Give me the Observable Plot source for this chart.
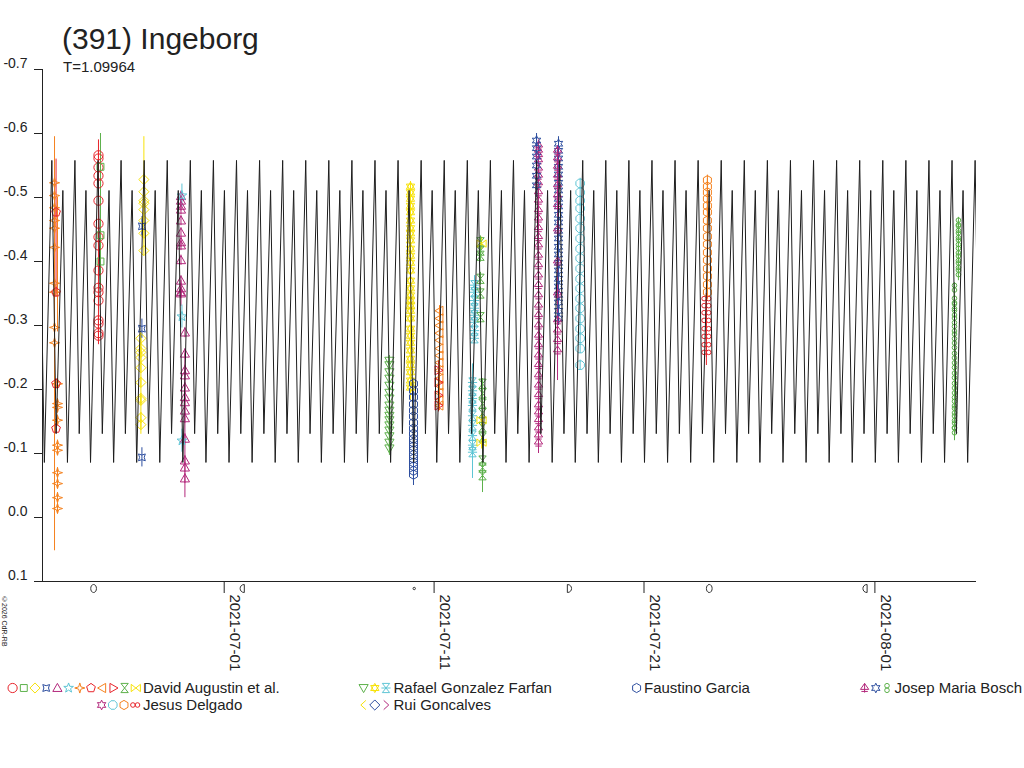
<!DOCTYPE html>
<html>
<head>
<meta charset="utf-8">
<script src="https://cdn.jsdelivr.net/npm/d3@7"></script>
<script src="https://cdn.jsdelivr.net/npm/@observablehq/plot@0.6"></script>
<style>
  body { margin: 0; background: #fff; font-family: "Liberation Sans", Arial, sans-serif; color: #222; }
  #wrap { position: relative; width: 1024px; height: 768px; overflow: hidden; }
  #chart { position: absolute; left: 0; top: 0; }
  #title { position: absolute; left: 62px; top: 22px; font-size: 30px; white-space: nowrap; }
  #period { position: absolute; left: 63px; top: 58px; font-size: 15px; white-space: nowrap; }
  #copy { position: absolute; left: 1px; top: 596px; font-size: 7px; writing-mode: vertical-rl; white-space: nowrap; }
  .leg { position: absolute; font-size: 15px; white-space: nowrap; line-height: 16px; }
  .leg svg { position: absolute; top: 0px; }
</style>
</head>
<body>
<div id="wrap">
  <div id="chart"></div>
  <div id="title">(391) Ingeborg</div>
  <div id="period">T=1.09964</div>
  <div id="copy">©2026 CdR-RB</div>
</div>
<script>
// Lightcurve of (391) Ingeborg: observing sessions + periodic model

const observers = ["David Augustin et al.", "Rafael Gonzalez Farfan", "Faustino Garcia", "Josep Maria Bosch", "Jesus Delgado", "Rui Goncalves"];

// model: one rotation (phase from the bright maximum, relative magnitude), period in days
const period = 1.09964;
const modelEpoch = "2021-07-01T14:04Z";
const modelPhase = [0, 0.186, 0.477, 0.676];
const modelMag = [-0.558, -0.131, -0.511, -0.086];

// relative magnitudes per session
const augA_star4 = [-0.523, -0.503, -0.484, -0.464, -0.452, -0.422, -0.366, -0.352, -0.297, -0.273];
const augA_star4b = [-0.209, -0.178, -0.172, -0.152, -0.113, -0.105, -0.070, -0.053, -0.031, -0.014];
const augA_pent = [-0.477, -0.352, -0.209, -0.139];
const augB_circle = [-0.566, -0.561, -0.547, -0.534, -0.522, -0.495, -0.459, -0.438, -0.425, -0.386, -0.359, -0.352, -0.339, -0.308, -0.303, -0.288, -0.284];
const augB_square = [-0.548, -0.441, -0.400];
const augC_diam = [-0.528, -0.509, -0.495, -0.491, -0.481, -0.464, -0.444, -0.417];
const augC_diamb = [-0.280, -0.264, -0.258, -0.250, -0.234, -0.211, -0.186, -0.183, -0.156, -0.145];
const augC_pinch = [-0.455, -0.295, -0.094];
const augD_tri = [-0.502, -0.495, -0.487, -0.481, -0.464, -0.445, -0.430, -0.425, -0.402, -0.370, -0.358, -0.352, -0.350];
const augD_trib = [-0.289, -0.256, -0.230, -0.222, -0.203, -0.188, -0.180, -0.167, -0.155, -0.123, -0.089, -0.078, -0.061];
const augD_star = [-0.503, -0.314, -0.120];
const rgfE = [-0.245, -0.238, -0.227, -0.217, -0.206, -0.195, -0.186, -0.175, -0.167, -0.159, -0.152, -0.144, -0.136, -0.127, -0.117, -0.108];
const rgfF = [-0.517, -0.508, -0.498, -0.487, -0.477, -0.464, -0.452, -0.444, -0.433, -0.420, -0.409, -0.398, -0.386, -0.370, -0.358, -0.347, -0.339, -0.331, -0.323, -0.311, -0.295, -0.284, -0.273, -0.261, -0.248, -0.238, -0.227, -0.214, -0.203];
const fgF = [-0.209, -0.198, -0.188, -0.177, -0.167, -0.158, -0.148, -0.139, -0.131, -0.123, -0.117, -0.111, -0.105, -0.098, -0.092, -0.086, -0.080, -0.073, -0.067];
const augG_left = [-0.323, -0.311, -0.300, -0.288, -0.277, -0.264, -0.253, -0.242, -0.230, -0.217, -0.206, -0.195, -0.183, -0.175];
const augG_right = [-0.230, -0.211, -0.191, -0.175];
const rgfH = [-0.363, -0.352, -0.339, -0.327, -0.316, -0.305, -0.292, -0.280];
const rgfHb = [-0.211, -0.198, -0.186, -0.175, -0.159, -0.144, -0.128, -0.113, -0.102];
const augH_hg = [-0.430, -0.417, -0.409, -0.373, -0.350, -0.313];
const augH_hgb = [-0.209, -0.194, -0.178, -0.163, -0.141, -0.125, -0.089, -0.078, -0.066];
const augH_bow = [-0.428, -0.152, -0.117];
const jmbI = [-0.581, -0.573, -0.566, -0.558, -0.545, -0.534, -0.522, -0.508, -0.495, -0.480, -0.467, -0.452, -0.438, -0.425, -0.409, -0.394, -0.378, -0.363, -0.347, -0.331, -0.316, -0.300, -0.284, -0.269, -0.253, -0.238, -0.222, -0.206, -0.191, -0.175, -0.164, -0.152, -0.139, -0.128, -0.117];
const jmbI_ast = [-0.589, -0.577, -0.564, -0.550, -0.534, -0.519];
const jmbJ_ast = [-0.584, -0.573, -0.561, -0.548, -0.536, -0.523, -0.511, -0.498, -0.486, -0.473, -0.461, -0.448, -0.436, -0.423, -0.411, -0.398, -0.386, -0.373, -0.361, -0.348, -0.336, -0.323, -0.311];
const jmbJ = [-0.573, -0.561, -0.548, -0.534, -0.519, -0.503, -0.488, -0.450, -0.400, -0.350, -0.308, -0.292, -0.277, -0.261];
const jdK = [-0.522, -0.508, -0.495, -0.483, -0.467, -0.452, -0.436, -0.420, -0.405, -0.389, -0.373, -0.358, -0.342, -0.327, -0.311, -0.295, -0.280, -0.264, -0.238];
const jdL_hex = [-0.527, -0.517, -0.508, -0.498, -0.487, -0.477, -0.464, -0.452, -0.439, -0.427, -0.414, -0.402, -0.389, -0.377, -0.364, -0.352];
const jdL_inf = [-0.342, -0.331, -0.320, -0.308, -0.295, -0.283, -0.270, -0.258];
const jmbM = [-0.461, -0.452, -0.441, -0.430, -0.417, -0.405, -0.394, -0.383];
const jmbMb = [-0.359, -0.339, -0.330, -0.320, -0.308, -0.295, -0.283, -0.269, -0.253, -0.238, -0.222, -0.206, -0.191, -0.178, -0.167, -0.155, -0.144, -0.136];

// [observer, station, time (UTC), magnitudes, point error, long error bar or null]
const sessions = [
  ["David Augustin et al.", 6, "2021-06-22T22:00Z", augA_star4, 0.008, [-0.595, 0.052]],
  ["David Augustin et al.", 6, "2021-06-23T01:25Z", augA_star4b, 0.008, [-0.50, -0.29]],
  ["David Augustin et al.", 7, "2021-06-22T23:45Z", augA_pent, 0.008, [-0.56, -0.35]],
  ["David Augustin et al.", 0, "2021-06-25T00:15Z", augB_circle, 0.008, [-0.59, -0.27]],
  ["David Augustin et al.", 1, "2021-06-25T02:33Z", augB_square, 0.008, [-0.60, -0.355]],
  ["David Augustin et al.", 2, "2021-06-27T04:10Z", augC_diam, 0.008, [-0.595, -0.425]],
  ["David Augustin et al.", 2, "2021-06-27T00:45Z", augC_diamb, 0.008, [-0.29, -0.13]],
  ["David Augustin et al.", 3, "2021-06-27T01:55Z", augC_pinch, 0.015, null],
  ["David Augustin et al.", 4, "2021-06-28T22:35Z", augD_tri, 0.008, [-0.37, -0.33]],
  ["David Augustin et al.", 4, "2021-06-29T03:05Z", augD_trib, 0.008, [-0.256, -0.031]],
  ["David Augustin et al.", 5, "2021-06-28T23:40Z", augD_star, 0.018, null],
  ["Rafael Gonzalez Farfan", 0, "2021-07-08T20:55Z", rgfE, 0.008, [-0.245, -0.097]],
  ["Rafael Gonzalez Farfan", 1, "2021-07-09T21:00Z", rgfF, 0.008, [-0.522, -0.183]],
  ["Faustino Garcia", 0, "2021-07-10T00:26Z", fgF, 0.008, [-0.21, -0.05]],
  ["David Augustin et al.", 8, "2021-07-11T06:10Z", augG_left, 0.008, [-0.33, -0.17]],
  ["David Augustin et al.", 9, "2021-07-11T05:00Z", augG_right, 0.008, [-0.245, -0.165]],
  ["Rafael Gonzalez Farfan", 2, "2021-07-12T22:12Z", rgfH, 0.008, [-0.378, -0.277]],
  ["Rafael Gonzalez Farfan", 2, "2021-07-12T19:55Z", rgfHb, 0.008, [-0.24, -0.061]],
  ["David Augustin et al.", 10, "2021-07-13T05:02Z", augH_hg, 0.01, null],
  ["David Augustin et al.", 10, "2021-07-13T07:21Z", augH_hgb, 0.008, [-0.215, -0.039]],
  ["David Augustin et al.", 11, "2021-07-13T06:14Z", augH_bow, 0.01, null],
  ["Josep Maria Bosch", 0, "2021-07-15T23:23Z", jmbI, 0.008, [-0.59, -0.10]],
  ["Josep Maria Bosch", 1, "2021-07-15T21:07Z", jmbI_ast, 0.008, [-0.60, -0.50]],
  ["Josep Maria Bosch", 1, "2021-07-16T22:15Z", jmbJ_ast, 0.008, [-0.595, -0.30]],
  ["Josep Maria Bosch", 0, "2021-07-16T21:07Z", jmbJ, 0.008, [-0.58, -0.214]],
  ["Jesus Delgado", 1, "2021-07-17T23:00Z", jdK, 0.008, null],
  ["Jesus Delgado", 2, "2021-07-24T00:30Z", jdL_hex, 0.008, [-0.53, -0.34]],
  ["Jesus Delgado", 3, "2021-07-23T23:20Z", jdL_inf, 0.008, [-0.35, -0.2375]],
  ["Josep Maria Bosch", 2, "2021-08-04T23:30Z", jmbM, 0.008, [-0.464, -0.37]],
  ["Josep Maria Bosch", 2, "2021-08-04T19:00Z", jmbMb, 0.008, [-0.36, -0.12]],
];

// moon phases shown under the time axis
const moonDates = ["2021-06-24T18:40Z", "2021-07-01T21:11Z", "2021-07-10T01:17Z", "2021-07-17T10:11Z", "2021-07-24T02:37Z", "2021-07-31T13:16Z"];
const moonPhases = ["full", "last", "new", "first", "full", "last"];

const xDomain = ["2021-06-22T08:15Z", "2021-08-05T20:10Z"];
const xTicks = ["2021-07-01", "2021-07-11", "2021-07-21", "2021-08-01"];
const yTicks = [-0.7, -0.6, -0.5, -0.4, -0.3, -0.2, -0.1, 0.0, 0.1];

// ---- look ----
const RED = "#e8242b", GREEN = "#5db14b", YELLOW = "#f7e20a", BLUE = "#2d4e9f",
      MAG = "#b3287c", CYAN = "#5ec5d5", ORANGE = "#f5821f";

const looks = {
  "David Augustin et al.": [["circle", RED], ["square", GREEN], ["diamond", YELLOW], ["pinch", BLUE],
    ["triUp", MAG], ["star", CYAN], ["star4", ORANGE], ["pentagon", RED], ["triLeft", ORANGE],
    ["triRight", RED], ["hourglass", GREEN], ["bowtie", YELLOW]],
  "Rafael Gonzalez Farfan": [["triDown", GREEN], ["hexagram", YELLOW], ["hourglassBar", CYAN]],
  "Faustino Garcia": [["hexagon", BLUE]],
  "Josep Maria Bosch": [["tricross", MAG], ["asterisk", BLUE], ["eight", GREEN]],
  "Jesus Delgado": [["asterisk", MAG], ["octagon", CYAN], ["hexagon", ORANGE], ["infinity", RED]],
  "Rui Goncalves": [["angleL", YELLOW], ["diamond", BLUE], ["angleR", MAG]],
};

const TAU = 2 * Math.PI;
function poly(c, pts, close = true) {
  c.moveTo(pts[0][0], pts[0][1]);
  for (let i = 1; i < pts.length; i++) c.lineTo(pts[i][0], pts[i][1]);
  if (close) c.closePath();
}
const ring = (n, r, rot) => d3.range(n).map(i => [r * Math.cos(rot + i * TAU / n), r * Math.sin(rot + i * TAU / n)]);
const starPts = (n, r1, r2, rot) => d3.range(2 * n).map(i => {
  const rr = i % 2 ? r2 : r1, a = rot + i * Math.PI / n;
  return [rr * Math.cos(a), rr * Math.sin(a)];
});
const circ = (c, x, y, r) => { c.moveTo(x + r, y); c.arc(x, y, r, 0, TAU); };

const shapes = {
  circle: (c, r) => circ(c, 0, 0, r),
  square: (c, r) => poly(c, [[-.75 * r, -.75 * r], [.75 * r, -.75 * r], [.75 * r, .75 * r], [-.75 * r, .75 * r]]),
  diamond: (c, r) => poly(c, ring(4, 1.1 * r, -Math.PI / 2)),
  pinch: (c, r) => poly(c, starPts(4, 1.05 * r, .5 * r, -Math.PI / 4)),
  triUp: (c, r) => poly(c, [[0, -r], [r, .75 * r], [-r, .75 * r]]),
  triDown: (c, r) => poly(c, [[0, r], [r, -.75 * r], [-r, -.75 * r]]),
  triLeft: (c, r) => poly(c, [[-r, 0], [.75 * r, -r], [.75 * r, r]]),
  triRight: (c, r) => poly(c, [[r, 0], [-.75 * r, -r], [-.75 * r, r]]),
  star: (c, r) => poly(c, starPts(5, 1.1 * r, .45 * r, -Math.PI / 2)),
  star4: (c, r) => poly(c, starPts(4, 1.1 * r, .35 * r, -Math.PI / 2)),
  pentagon: (c, r) => poly(c, ring(5, r, -Math.PI / 2)),
  hourglass: (c, r) => poly(c, [[-.8 * r, -r], [.8 * r, -r], [-.8 * r, r], [.8 * r, r]]),
  bowtie: (c, r) => poly(c, [[-r, -.8 * r], [-r, .8 * r], [r, -.8 * r], [r, .8 * r]]),
  hexagon: (c, r) => poly(c, ring(6, r, -Math.PI / 2)),
  octagon: (c, r) => poly(c, ring(8, r, Math.PI / 8)),
  asterisk: (c, r) => poly(c, starPts(6, 1.05 * r, .55 * r, -Math.PI / 2)),
  hexagram: (c, r) => { poly(c, [[0, -r], [.9 * r, .55 * r], [-.9 * r, .55 * r]]); poly(c, [[0, r], [.9 * r, -.55 * r], [-.9 * r, -.55 * r]]); },
  hourglassBar: (c, r) => { poly(c, [[-.8 * r, -r], [.8 * r, -r], [-.8 * r, r], [.8 * r, r]]); c.moveTo(-r, 0); c.lineTo(r, 0); },
  tricross: (c, r) => { poly(c, [[0, -r], [.9 * r, .3 * r], [-.9 * r, .3 * r]]); c.moveTo(0, -r); c.lineTo(0, r); c.moveTo(-.7 * r, .75 * r); c.lineTo(.7 * r, .75 * r); },
  eight: (c, r) => { circ(c, 0, -.5 * r, .5 * r); circ(c, 0, .5 * r, .5 * r); },
  infinity: (c, r) => { circ(c, -.5 * r, 0, .5 * r); circ(c, .5 * r, 0, .5 * r); },
  angleL: (c, r) => poly(c, [[.5 * r, -r], [-.6 * r, 0], [.5 * r, r]], false),
  angleR: (c, r) => poly(c, [[-.5 * r, -r], [.6 * r, 0], [-.5 * r, r]], false),
  moonFull: (c, r) => { c.moveTo(0, -r); c.bezierCurveTo(.95 * r, -r, .95 * r, r, 0, r); c.bezierCurveTo(-.95 * r, r, -.95 * r, -r, 0, -r); },
  moonNew: (c, r) => circ(c, 0, 0, .3 * r),
  moonFirst: (c, r) => { c.moveTo(-.4 * r, -r); c.bezierCurveTo(r, -r, r, r, -.4 * r, r); c.closePath(); },
  moonLast: (c, r) => { c.moveTo(.4 * r, -r); c.bezierCurveTo(-r, -r, -r, r, .4 * r, r); c.closePath(); },
};
const symbolOf = name => ({ draw(ctx, size) { shapes[name](ctx, Math.sqrt(size / Math.PI)); } });

// ---- build rows ----
const parse = s => new Date(s);
const modelRows = [];
{
  const t0 = parse(modelEpoch).getTime(), P = period * 864e5;
  const a = parse(xDomain[0]).getTime(), b = parse(xDomain[1]).getTime();
  for (let k = Math.floor((a - t0) / P) - 1; k <= Math.ceil((b - t0) / P); k++) {
    modelPhase.forEach((ph, i) => modelRows.push({ t: new Date(t0 + (k + ph) * P), m: modelMag[i] }));
  }
}

const sessionMarks = [];
const barMarks = [];
for (const [who, k, when, mags, err, span] of sessions) {
  const [shape, color] = looks[who][k];
  const t = parse(when);
  const pts = mags.map(m => ({ t, m }));
  barMarks.push(Plot.ruleX(pts, { x: "t", y1: d => d.m - err, y2: d => d.m + err, stroke: color, strokeWidth: 1 }));
  if (span) barMarks.push(Plot.ruleX([{ t, lo: span[0], hi: span[1] }], { x: "t", y1: "lo", y2: "hi", stroke: color, strokeWidth: 1 }));
  sessionMarks.push(Plot.dot(pts, { x: "t", y: "m", symbol: symbolOf(shape), r: 4.6, stroke: color, fill: "none", strokeWidth: 1 }));
}

const moons = moonDates.map((d, i) => ({ t: parse(d), phase: moonPhases[i] }));
const moonSym = { full: "moonFull", new: "moonNew", first: "moonFirst", last: "moonLast" };
const moonMarks = Object.keys(moonSym).map(p =>
  Plot.dot(moons.filter(d => d.phase === p), { x: "t", frameAnchor: "bottom", dy: 7, symbol: symbolOf(moonSym[p]), r: 4, stroke: "#333", fill: "none", strokeWidth: 1 }));

const fmtDate = d3.utcFormat("%Y-%m-%d");
const tickDates = xTicks.map(parse);

const chart = Plot.plot({
  width: 1024,
  height: 680,
  marginLeft: 42,
  marginRight: 48,
  marginTop: 69,
  marginBottom: 99,
  style: { fontFamily: "'Liberation Sans', Arial, sans-serif", color: "#222", background: "transparent" },
  x: { type: "utc", domain: xDomain.map(parse) },
  y: { domain: [0.1, -0.7] },
  marks: [
    ...barMarks,
    ...sessionMarks,
    Plot.line(modelRows, { x: "t", y: "m", stroke: "#1e1e1e", strokeWidth: 1, clip: true }),
    Plot.ruleX([parse(xDomain[0])], { stroke: "#222" }),
    Plot.ruleY([0.1], { stroke: "#222" }),
    Plot.axisY({ ticks: yTicks, tickSize: 8, tickFormat: () => "", label: null }),
    Plot.text(yTicks, { y: d => d, frameAnchor: "left", text: d => d.toFixed(1), textAnchor: "end", dx: -15, dy: -6, fontSize: 14, fill: "#222" }),
    Plot.axisX({ ticks: tickDates, tickSize: 12, tickFormat: () => "", label: null }),
    Plot.text(tickDates, { x: d => d, frameAnchor: "bottom", text: fmtDate, rotate: 90, textAnchor: "start", dx: 6, dy: 13, fontSize: 15, fill: "#222" }),
    ...moonMarks,
  ],
});
document.getElementById("chart").appendChild(chart);

// ---- legend: 4 columns, symbols right-aligned before the name ----
const wrap = document.getElementById("wrap");
observers.forEach((who, i) => {
  const col = i % 4, row = Math.floor(i / 4);
  const textX = 143 + col * 250.5, y = 680 + row * 16.5;
  const list = looks[who];
  const step = 11.2, w = list.length * step;
  const div = document.createElement("div");
  div.className = "leg";
  div.style.left = textX + "px";
  div.style.top = y + "px";
  div.textContent = who;
  const svg = d3.create("svg").attr("width", w).attr("height", 16)
    .style("left", (-w - 2) + "px");
  list.forEach(([shape, color], j) => {
    const p = d3.path();
    shapes[shape](p, 4.6);
    svg.append("path").attr("d", p.toString())
      .attr("transform", `translate(${j * step + 5.6},8)`)
      .attr("fill", "none").attr("stroke", color).attr("stroke-width", 1);
  });
  div.appendChild(svg.node());
  wrap.appendChild(div);
});
</script>
</body>
</html>
